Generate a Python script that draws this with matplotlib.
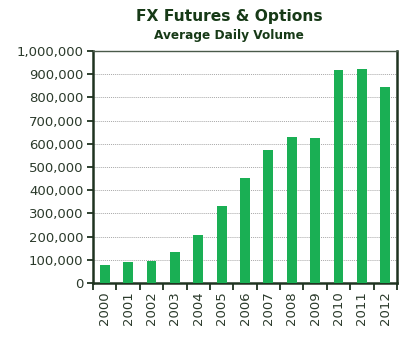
import matplotlib
matplotlib.use("Agg")
import matplotlib.pyplot as plt
from matplotlib.ticker import FuncFormatter, MultipleLocator, FixedLocator
import numpy as np

years = ["2000", "2001", "2002", "2003", "2004", "2005", "2006",
         "2007", "2008", "2009", "2010", "2011", "2012"]
volume = [76000, 89000, 96000, 135000, 205000, 334000, 452000,
          574000, 628000, 625000, 920000, 922000, 846000]

title = "FX Futures & Options"
subtitle = "Average Daily Volume"

green = "#1aaf54"
dark = "#1f3320"
text_col = "#2b3a2b"

fig = plt.figure(figsize=(4.2, 3.48), dpi=100)
ax = fig.add_axes([93/420, 1 - 283/348, (397-93)/420, (283-51)/348])

x = np.arange(len(years))
ax.bar(x, volume, width=0.42, color=green, zorder=3)
ax.set_xlim(-0.5, len(years) - 0.5)
ax.set_ylim(0, 1000000)

ax.yaxis.set_major_locator(MultipleLocator(100000))
ax.yaxis.set_major_formatter(FuncFormatter(lambda v, p: f"{int(v):,}"))
ax.set_xticks(x)
ax.set_xticklabels(years, rotation=90, fontsize=9.5, color=text_col)
ax.tick_params(axis="x", length=0, pad=6)
ax.xaxis.set_minor_locator(FixedLocator(np.arange(-0.5, len(years), 1.0)))
ax.tick_params(axis="x", which="minor", length=5, width=1.3, color=dark, direction="out")
ax.tick_params(axis="y", length=4, width=1.3, color=dark, labelsize=9.5, labelcolor=text_col, pad=3)

ax.grid(axis="y", color="#a8a8a8", linestyle=(0, (1, 1)), linewidth=0.7, zorder=0)
for s in ["left", "bottom", "right"]:
    ax.spines[s].set_color(dark)
    ax.spines[s].set_linewidth(1.8)
ax.spines["top"].set_color("#4a5a4a")
ax.spines["top"].set_linewidth(1.0)

fig.text(0.545, 1 - 17/348, title, ha="center", va="center", fontsize=11.2,
         fontweight="bold", color="#173a17")
fig.text(0.545, 1 - 35/348, subtitle, ha="center", va="center", fontsize=8.7,
         fontweight="bold", color="#173a17")

fig.savefig("out.png", dpi=100)
